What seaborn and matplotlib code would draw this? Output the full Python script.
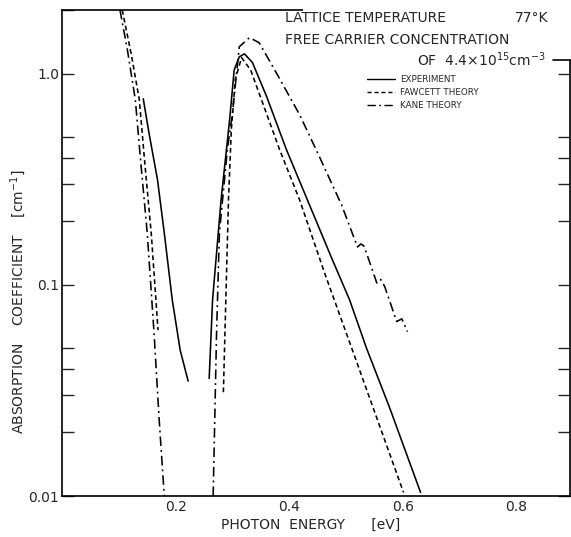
import matplotlib
matplotlib.use("Agg")
import matplotlib.pyplot as plt
from matplotlib.lines import Line2D
from matplotlib.patches import Rectangle
from matplotlib.ticker import LogLocator, NullFormatter, FixedLocator, FixedFormatter
import pandas as pd
import seaborn as sns

# Experiment (solid), two branches
exp_low_x = [0.143, 0.153, 0.168, 0.180, 0.194, 0.208, 0.222]
exp_low_y = [0.76, 0.525, 0.315, 0.176, 0.085, 0.049, 0.035]
exp_high_x = [0.259, 0.265, 0.280, 0.295, 0.303, 0.312, 0.321, 0.335, 0.360,
              0.395, 0.418, 0.476, 0.506, 0.536, 0.577, 0.631]
exp_high_y = [0.036, 0.085, 0.253, 0.605, 1.04, 1.20, 1.24, 1.13, 0.78,
              0.436, 0.31, 0.131, 0.085, 0.050, 0.026, 0.0104]

# Fawcett theory (dashed)
faw_low_x = [0.106, 0.122, 0.136, 0.146, 0.157, 0.164, 0.169]
faw_low_y = [2.0, 1.23, 0.753, 0.37, 0.176, 0.095, 0.061]
faw_high_x = [0.284, 0.293, 0.298, 0.305, 0.316, 0.332, 0.383, 0.418, 0.462, 0.510, 0.601]
faw_high_y = [0.031, 0.253, 0.543, 0.94, 1.19, 1.04, 0.436, 0.253, 0.114, 0.050, 0.0104]

# Kane theory (dash-dot)
kane_low_x = [0.102, 0.115, 0.129, 0.139, 0.150, 0.162, 0.171, 0.180]
kane_low_y = [2.0, 1.30, 0.753, 0.37, 0.176, 0.059, 0.023, 0.01]
kane_high_x = [0.266, 0.272, 0.277, 0.291, 0.300, 0.312, 0.330, 0.347, 0.377, 0.418,
               0.453, 0.492, 0.520, 0.526, 0.531, 0.536, 0.554, 0.561, 0.568,
               0.589, 0.598, 0.608]
kane_high_y = [0.01, 0.059, 0.176, 0.436, 0.65, 1.34, 1.48, 1.40, 1.01, 0.64,
               0.404, 0.239, 0.151, 0.156, 0.153, 0.141, 0.102, 0.106, 0.098,
               0.067, 0.069, 0.060]

x_ticks = [0.2, 0.4, 0.6, 0.8]
x_tick_labels = ["0.2", "0.4", "0.6", "0.8"]
y_ticks = [0.01, 0.1, 1.0]
y_tick_labels = ["0.01", "0.1", "1.0"]
legend_labels = ["EXPERIMENT", "FAWCETT THEORY", "KANE THEORY"]

sns.set_style("white")
plt.rcParams["font.family"] = ["DejaVu Sans"]

W, H = 571, 537
fig = plt.figure(figsize=(W / 100, H / 100), dpi=100)
ax = fig.add_axes([62 / W, 41 / H, 508 / W, 486 / H])

SOLID = "-"
DASHED = (0, (3.0, 2.0))
DASHDOT = (0, (6.0, 2.5, 1.2, 2.5))

segments = [
    (exp_low_x, exp_low_y, SOLID),
    (exp_high_x, exp_high_y, SOLID),
    (faw_low_x, faw_low_y, DASHED),
    (faw_high_x, faw_high_y, DASHED),
    (kane_low_x, kane_low_y, DASHDOT),
    (kane_high_x, kane_high_y, DASHDOT),
]
for xs, ys, ls in segments:
    df = pd.DataFrame({"energy": xs, "alpha": ys})
    sns.lineplot(data=df, x="energy", y="alpha", ax=ax, color="black",
                 linestyle=ls, linewidth=1.15, estimator=None, sort=False)

ax.set_yscale("log")
ax.set_xlim(0, 0.894)
ax.set_ylim(0.01, 2.0)

ax.xaxis.set_major_locator(FixedLocator(x_ticks))
ax.xaxis.set_major_formatter(FixedFormatter(x_tick_labels))
ax.yaxis.set_major_locator(FixedLocator(y_ticks))
ax.yaxis.set_major_formatter(FixedFormatter(y_tick_labels))
ax.yaxis.set_minor_locator(LogLocator(base=10, subs=[2, 3, 4, 5]))
ax.yaxis.set_minor_formatter(NullFormatter())

ax.tick_params(axis="y", which="both", direction="in", length=8.5, width=1.0,
               left=True, right=True, pad=2, labelsize=10)
ax.tick_params(axis="x", which="both", length=0, pad=3, labelsize=10)

for sp in ax.spines.values():
    sp.set_visible(True)
    sp.set_color("black")
    sp.set_linewidth(1.2)

ax.set_xlabel("PHOTON  ENERGY      [eV]", fontsize=10)
ax.xaxis.set_label_coords(0.49, -0.045)
ax.set_ylabel("ABSORPTION    COEFFICIENT    [cm$^{-1}$]", fontsize=10)
ax.yaxis.set_label_coords(-0.067, 0.40)

handles = [
    Line2D([], [], color="black", lw=1.0, linestyle=SOLID),
    Line2D([], [], color="black", lw=1.0, linestyle=DASHED),
    Line2D([], [], color="black", lw=1.0, linestyle=DASHDOT),
]
ax.legend(handles, legend_labels, loc="upper left", bbox_to_anchor=(0.601, 0.866),
          frameon=False, fontsize=6.3, handlelength=3.2, handletextpad=0.5,
          labelspacing=0.45, borderpad=0, borderaxespad=0)

# header block sits in a notch cut out of the frame
fig.add_artist(Rectangle((303 / W, 1 - 60 / H), 1 - 303 / W, 60 / H,
                         transform=fig.transFigure, facecolor="white",
                         edgecolor="none", zorder=5))
fig.add_artist(Line2D([553 / W, 1.0], [1 - 60 / H] * 2, transform=fig.transFigure,
                      color="black", lw=1.2, zorder=6))
fig.text(285 / W, 1 - 18 / H, "LATTICE TEMPERATURE", fontsize=10,
         va="center", ha="left", zorder=7)
fig.text(548 / W, 1 - 18 / H, "77°K", fontsize=10, va="center", ha="right", zorder=7)
fig.text(285 / W, 1 - 40 / H, "FREE CARRIER CONCENTRATION", fontsize=10,
         va="center", ha="left", zorder=7)
fig.text(546 / W, 1 - 60 / H, r"OF  4.4$\times$10$^{15}$cm$^{-3}$", fontsize=10,
         va="center", ha="right", zorder=7)

fig.savefig("out.png", dpi=100)
